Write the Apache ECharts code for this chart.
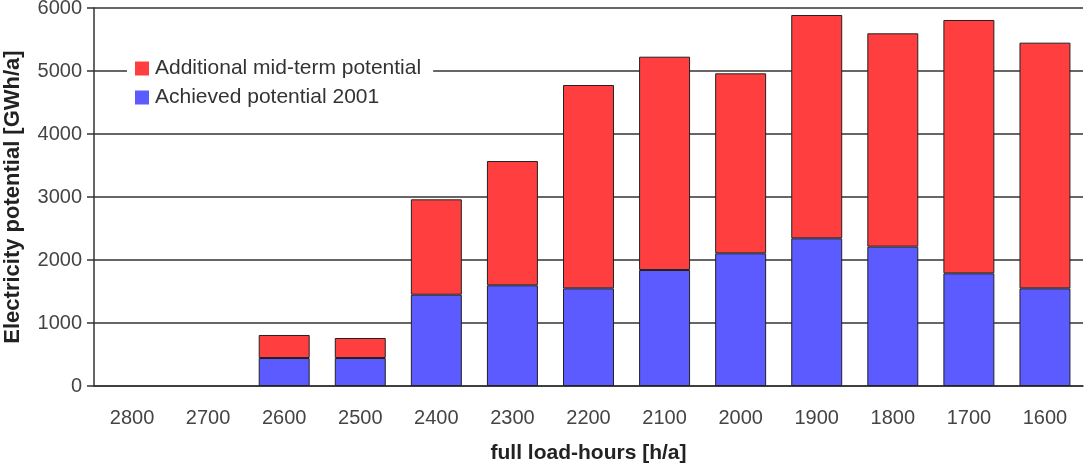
<!DOCTYPE html>
<html>
<head>
<meta charset="utf-8">
<script src="https://cdn.jsdelivr.net/npm/echarts@6/dist/echarts.min.js"></script>
<style>
  html, body { margin: 0; padding: 0; background: #fff; }
  #chart { width: 1091px; height: 474px; }
</style>
</head>
<body>
<div id="chart"></div>
<script>
'use strict';

const categories = ['2800', '2700', '2600', '2500', '2400', '2300', '2200', '2100', '2000', '1900', '1800', '1700', '1600'];
const achieved = [0, 0, 444, 444, 1449, 1598, 1550, 1841, 2106, 2344, 2212, 1788, 1550];
const additional = [0, 0, 366, 318, 1514, 1973, 3228, 3386, 2857, 3545, 3386, 4022, 3900];
const yTicks = { min: 0, max: 6000, interval: 1000 };

const font = 'Liberation Sans, Arial, sans-serif';

// empty categories draw no bar at all
const noZero = function (arr) {
    return arr.map(function (v) { return v === 0 ? null : v; });
};

const option = {
    animation: false,
    grid: { left: 94, right: 8, top: 8, bottom: 88, outerBoundsMode: 'none' },
    legend: {
        data: ['Additional mid-term potential', 'Achieved potential 2001'],
        orient: 'vertical',
        left: 127,
        top: 56,
        padding: [2, 12, 2, 8],
        itemGap: 8,
        itemWidth: 14,
        itemHeight: 14,
        icon: 'rect',
        backgroundColor: '#fff',
        itemStyle: { borderWidth: 0 },
        textStyle: { fontFamily: font, fontSize: 21, color: '#333', padding: [0, 0, 0, 1] }
    },
    xAxis: {
        type: 'category',
        data: categories,
        name: 'full load-hours [h/a]',
        nameLocation: 'middle',
        nameGap: 57,
        nameTextStyle: { fontFamily: font, fontSize: 21, fontWeight: 'bold', color: '#222' },
        axisLine: { lineStyle: { color: '#333', width: 1.5 } },
        axisTick: { length: 7, lineStyle: { color: '#333', width: 1.5 } },
        axisLabel: { margin: 22, fontFamily: font, fontSize: 20, color: '#444' }
    },
    yAxis: {
        type: 'value',
        min: yTicks.min,
        max: yTicks.max,
        interval: yTicks.interval,
        name: 'Electricity potential [GWh/a]',
        nameLocation: 'middle',
        nameGap: 70,
        nameTextStyle: { fontFamily: font, fontSize: 22, fontWeight: 'bold', color: '#222' },
        axisLine: { show: true, lineStyle: { color: '#333', width: 1.5 } },
        axisTick: { show: true, length: 7, lineStyle: { color: '#333', width: 1.5 } },
        axisLabel: {
            margin: 12,
            fontFamily: font,
            fontSize: 20,
            color: '#444',
            formatter: function (v) { return String(v); }
        },
        splitLine: { lineStyle: { color: '#333', width: 1.5 } }
    },
    series: [
        {
            name: 'Achieved potential 2001',
            type: 'bar',
            stack: 'total',
            data: noZero(achieved),
            barWidth: '67%',
            itemStyle: { color: '#5b5bff', borderColor: '#222', borderWidth: 1 }
        },
        {
            name: 'Additional mid-term potential',
            type: 'bar',
            stack: 'total',
            data: noZero(additional),
            barWidth: '67%',
            itemStyle: { color: '#ff3f3f', borderColor: '#222', borderWidth: 1 }
        }
    ]
};

const myChart = echarts.init(document.getElementById('chart'));
myChart.setOption(option);
window.addEventListener('resize', function () {
    myChart.resize();
});
</script>
</body>
</html>
